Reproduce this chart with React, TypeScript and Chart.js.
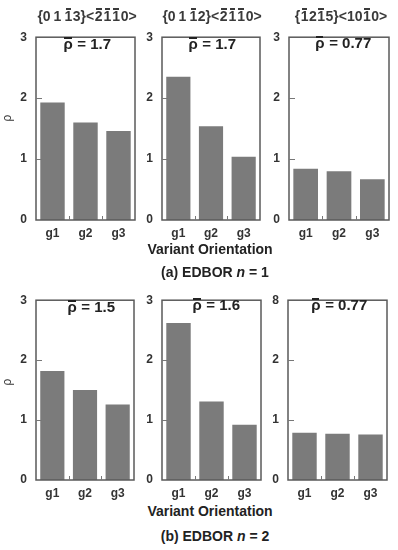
import React, { useEffect, useRef } from "react";
import { Chart, registerables } from "chart.js";

Chart.register(...registerables);

const categories = ["g1", "g2", "g3"];

// (a) EDBOR n = 1
const a1Values = [1.93, 1.6, 1.46];
const a2Values = [2.35, 1.54, 1.04];
const a3Values = [0.84, 0.8, 0.67];
// (b) EDBOR n = 2
const b1Values = [1.82, 1.5, 1.26];
const b2Values = [2.62, 1.31, 0.92];
const b3Values = [0.79, 0.77, 0.76];

const yTickLabels = ["0", "1", "2", "3"];
const yTickLabelsB3 = ["0", "1", "2", "8"];

const meanLabels = ["1.7", "1.7", "0.77", "1.5", "1.6", "0.77"];

// [text, overlined]
const title1: [string, boolean][] = [["{0\u20091\u2009", false], ["1", true], ["3}<", false], ["2", true], ["1", true], ["1", true], ["0>", false]];
const title2: [string, boolean][] = [["{0\u20091\u2009", false], ["1", true], ["2}<", false], ["2", true], ["1", true], ["1", true], ["0>", false]];
const title3: [string, boolean][] = [["{", false], ["1", true], ["2", false], ["1", true], ["5}<10", false], ["1", true], ["0>", false]];

const FONT = "'Liberation Sans', Arial, sans-serif";

type Geo = { l: number; r: number; t: number; b: number };

const YW = 22;
const XH = 22;
const PT = 8;
const PR = 4;

const boxPlugin = {
  id: "boxPlugin",
  afterDraw(chart: any) {
    const { ctx, chartArea } = chart;
    const { left, right, top, bottom } = chartArea;
    ctx.save();
    ctx.strokeStyle = "#5a5a5a";
    ctx.lineWidth = 1.5;
    ctx.strokeRect(left, top, right - left, bottom - top);
    const y = chart.scales.y;
    ctx.lineWidth = 1;
    ctx.strokeStyle = "#777";
    [1, 2].forEach((v) => {
      const py = Math.round(y.getPixelForValue(v)) + 0.5;
      ctx.beginPath();
      ctx.moveTo(left, py);
      ctx.lineTo(left + 6, py);
      ctx.stroke();
    });
    const x = chart.scales.x;
    [0.5, 1.5].forEach((v) => {
      const px = Math.round(x.getPixelForValue(v)) + 0.5;
      ctx.beginPath();
      ctx.moveTo(px, bottom);
      ctx.lineTo(px, bottom - 4);
      ctx.stroke();
    });
    ctx.restore();
  },
};

function Panel({ geo, values, tickLabels }: { geo: Geo; values: number[]; tickLabels: string[] }) {
  const ref = useRef<HTMLCanvasElement>(null);
  const width = geo.r - geo.l + YW + PR;
  const height = geo.b - geo.t + PT + XH;
  useEffect(() => {
    if (!ref.current) return;
    const chart = new Chart(ref.current, {
      type: "bar",
      data: {
        labels: categories,
        datasets: [
          {
            data: values,
            backgroundColor: "#7b7b7b",
            borderWidth: 0,
            barPercentage: 0.74,
            categoryPercentage: 1,
          },
        ],
      },
      options: {
        animation: false,
        responsive: false,
        maintainAspectRatio: false,
        events: [],
        layout: { padding: { top: PT, right: PR, left: 0, bottom: 0 } },
        plugins: { legend: { display: false }, tooltip: { enabled: false } },
        scales: {
          x: {
            grid: { display: false, drawTicks: false },
            border: { display: false },
            ticks: { font: { family: FONT, size: 12, weight: "bold" }, color: "#333", padding: 6 },
            afterFit(s: any) {
              s.height = XH;
            },
          },
          y: {
            min: 0,
            max: 3,
            grid: { display: false, drawTicks: false },
            border: { display: false },
            ticks: {
              stepSize: 1,
              font: { family: FONT, size: 12, weight: "bold" },
              color: "#333",
              padding: 9,
              callback: (v: any) => tickLabels[Number(v)],
            },
            afterFit(s: any) {
              s.width = YW;
            },
          },
        },
      } as any,
      plugins: [boxPlugin],
    });
    return () => chart.destroy();
  }, []);
  return (
    <canvas
      ref={ref}
      width={width}
      height={height}
      style={{ position: "absolute", left: geo.l - YW, top: geo.t - PT, width, height, display: "block" }}
    />
  );
}

function Over({ ch, top, thick }: { ch: string; top: number; thick: number }) {
  return (
    <span style={{ position: "relative", display: "inline-block", lineHeight: "1em", margin: "0 0.5px" }}>
      {ch}
      <span
        style={{
          position: "absolute",
          left: 1,
          right: 1,
          top,
          height: thick,
          background: "currentColor",
        }}
      />
    </span>
  );
}

function Title({ parts, cx, cy }: { parts: [string, boolean][]; cx: number; cy: number }) {
  return (
    <div
      style={{
        position: "absolute",
        left: cx - 80,
        width: 160,
        top: cy - 9,
        height: 18,
        lineHeight: "18px",
        textAlign: "center",
        font: `bold 14px ${FONT}`,
        color: "#3a3a3a",
        whiteSpace: "nowrap",
      }}
    >
      {parts.map(([t, o], i) => (o ? <Over key={i} ch={t} top={-1} thick={1.5} /> : <span key={i}>{t}</span>))}
    </div>
  );
}

function Mean({ label, cx, cy }: { label: string; cx: number; cy: number }) {
  return (
    <div
      style={{
        position: "absolute",
        left: cx - 50,
        width: 100,
        top: cy - 10,
        height: 20,
        lineHeight: "20px",
        textAlign: "center",
        font: `bold 15px ${FONT}`,
        color: "#222",
        whiteSpace: "nowrap",
      }}
    >
      <Over ch="ρ" top={1} thick={2} /> = {label}
    </div>
  );
}

function TextAt({ text, cx, cy, size, children }: { text?: string; cx: number; cy: number; size: number; children?: any }) {
  return (
    <div
      style={{
        position: "absolute",
        left: cx - 100,
        width: 200,
        top: cy - size / 2 - 2,
        height: size + 4,
        lineHeight: `${size + 4}px`,
        textAlign: "center",
        font: `bold ${size}px ${FONT}`,
        color: "#222",
        whiteSpace: "nowrap",
      }}
    >
      {text}
      {children}
    </div>
  );
}

function RhoLabel({ cx, cy }: { cx: number; cy: number }) {
  return (
    <div
      style={{
        position: "absolute",
        left: cx - 10,
        top: cy - 8,
        width: 20,
        height: 16,
        lineHeight: "16px",
        textAlign: "center",
        font: `12px ${FONT}`,
        color: "#333",
        transform: "rotate(-90deg)",
      }}
    >
      ρ
    </div>
  );
}

const geoA: Geo[] = [
  { l: 36, r: 135, t: 29, b: 220 },
  { l: 162, r: 260, t: 29, b: 220 },
  { l: 289, r: 389, t: 29, b: 220 },
];
const geoB: Geo[] = [
  { l: 36, r: 134, t: 292, b: 480 },
  { l: 162, r: 261, t: 292, b: 480 },
  { l: 288, r: 387, t: 292, b: 480 },
];

export default function App() {
  return (
    <div style={{ position: "absolute", left: 0, top: 0, width: 398, height: 550, background: "#fff", overflow: "hidden" }}>
      <Panel geo={geoA[0]} values={a1Values} tickLabels={yTickLabels} />
      <Panel geo={geoA[1]} values={a2Values} tickLabels={yTickLabels} />
      <Panel geo={geoA[2]} values={a3Values} tickLabels={yTickLabels} />
      <Panel geo={geoB[0]} values={b1Values} tickLabels={yTickLabels} />
      <Panel geo={geoB[1]} values={b2Values} tickLabels={yTickLabels} />
      <Panel geo={geoB[2]} values={b3Values} tickLabels={yTickLabelsB3} />

      <Title parts={title1} cx={87} cy={17} />
      <Title parts={title2} cx={212} cy={17} />
      <Title parts={title3} cx={341} cy={17} />

      <Mean label={meanLabels[0]} cx={87} cy={45} />
      <Mean label={meanLabels[1]} cx={212} cy={45} />
      <Mean label={meanLabels[2]} cx={343} cy={44} />
      <Mean label={meanLabels[3]} cx={91} cy={308} />
      <Mean label={meanLabels[4]} cx={216} cy={306} />
      <Mean label={meanLabels[5]} cx={339} cy={306} />

      <RhoLabel cx={8} cy={118} />
      <RhoLabel cx={8} cy={382} />

      <TextAt text="Variant Orientation" cx={210} cy={250} size={14} />
      <TextAt cx={215} cy={273} size={14}>
        (a) EDBOR <i>n</i> = 1
      </TextAt>
      <TextAt text="Variant Orientation" cx={210} cy={512} size={14} />
      <TextAt cx={215} cy={537} size={14}>
        (b) EDBOR <i>n</i> = 2
      </TextAt>
    </div>
  );
}
